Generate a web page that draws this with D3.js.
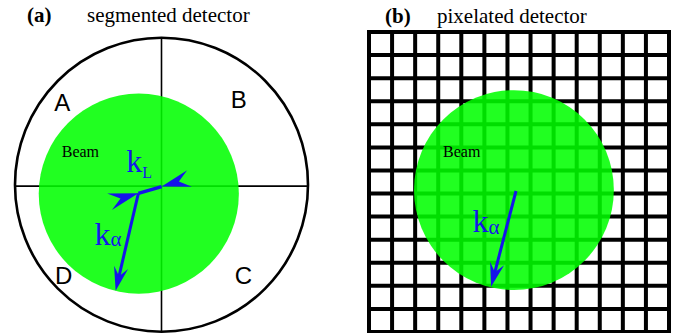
<!DOCTYPE html>
<html>
<head>
<meta charset="utf-8">
<script src="https://cdn.jsdelivr.net/npm/d3@7"></script>
<style>
  html, body { margin: 0; padding: 0; background: #fff; }
  svg { display: block; }
</style>
</head>
<body>
<svg id="fig" width="677" height="333"></svg>
<script>
// Segmented vs pixelated detector sketch

// panel (a): detector units, centre (0,0), radius 1, y pointing down
const quadrantLabels = ['A', 'B', 'C', 'D'];
const quadrantX = [-0.677, 0.527, 0.56, -0.667];
const quadrantY = [-0.503, -0.52, 0.675, 0.675];
const beamA = [-0.155, 0.061, 0.683];          // cx, cy, r
const kLStart = [-0.158, 0.059];
const kLEnd = [0.001, 0.013];
const kAlphaTipA = [-0.313, 0.721];
const labelBeamA = [-0.681, -0.188];
const labelKLA = [-0.24, -0.088];
const labelKAlphaA = [-0.457, 0.41];

// panel (b): pixel-cell units on a 13 x 13 grid
const gridCells = 13;
const beamB = [6.28, 6.85, 4.33];
const kAlphaStartB = [6.37, 6.89];
const kAlphaTipB = [5.29, 11.04];
const labelBeamB = [3.21, 5.42];
const labelKAlphaB = [4.48, 8.67];

const titles = [
  { tag: '(a)', text: 'segmented detector' },
  { tag: '(b)', text: 'pixelated detector' }
];

const BLUE = '#1515ea';
const GREEN = '#00ff00';
const SERIF = '"Liberation Serif", "Times New Roman", serif';
const SANS = '"Liberation Sans", Arial, sans-serif';

const svg = d3.select('#fig');
svg.append('rect').attr('width', 677).attr('height', 333).attr('fill', '#fff');

// barbed arrowhead: tip point, unit direction it points along
function arrowHead(tip, dir, len, half) {
  const bx = tip[0] - dir[0] * len, by = tip[1] - dir[1] * len;
  const px = -dir[1], py = dir[0];
  const nx = tip[0] - dir[0] * len * 0.62, ny = tip[1] - dir[1] * len * 0.62;
  return [tip, [bx + px * half, by + py * half], [nx, ny], [bx - px * half, by - py * half]];
}
function unit(a, b) {
  const dx = b[0] - a[0], dy = b[1] - a[1];
  const l = Math.hypot(dx, dy);
  return [dx / l, dy / l];
}
function subLabel(g, x, y, main, sub, size, subSize, subDx, subDy) {
  const t = g.append('text')
    .attr('x', x).attr('y', y)
    .attr('font-family', SERIF)
    .attr('font-size', size)
    .attr('fill', BLUE);
  t.append('tspan').text(main);
  t.append('tspan').attr('dx', subDx).attr('dy', subDy).attr('font-size', subSize).text(sub);
}

// ---------- panel (a) ----------
const xa = d3.scaleLinear().domain([-1, 1]).range([15, 308]);
const ya = d3.scaleLinear().domain([-1, 1]).range([37.7, 331.7]);
const ga = svg.append('g');

ga.append('ellipse')
  .attr('cx', xa(0)).attr('cy', ya(0))
  .attr('rx', xa(1) - xa(0)).attr('ry', ya(1) - ya(0))
  .attr('fill', 'none').attr('stroke', '#000').attr('stroke-width', 2.6);

ga.append('line')
  .attr('x1', xa(0)).attr('x2', xa(0))
  .attr('y1', ya(-1)).attr('y2', ya(1))
  .attr('stroke', '#000').attr('stroke-width', 1.6);
ga.append('line')
  .attr('x1', xa(-1)).attr('x2', xa(1))
  .attr('y1', ya(0.01)).attr('y2', ya(0.01))
  .attr('stroke', '#000').attr('stroke-width', 1.6);

ga.selectAll('text.quad')
  .data(quadrantLabels)
  .join('text')
    .attr('class', 'quad')
    .attr('x', (d, i) => xa(quadrantX[i]))
    .attr('y', (d, i) => ya(quadrantY[i]))
    .attr('text-anchor', 'middle')
    .attr('font-family', SANS)
    .attr('font-size', 24)
    .text(d => d);

ga.append('circle')
  .attr('cx', xa(beamA[0])).attr('cy', ya(beamA[1]))
  .attr('r', (xa(beamA[2]) - xa(0)))
  .attr('fill', GREEN).attr('fill-opacity', 0.87);

ga.append('text')
  .attr('x', xa(labelBeamA[0])).attr('y', ya(labelBeamA[1]))
  .attr('font-family', SERIF).attr('font-size', 16)
  .text('Beam');

// arrows in panel (a)
const pS = [xa(kLStart[0]), ya(kLStart[1])];
const pE = [xa(kLEnd[0]), ya(kLEnd[1])];
const pT = [xa(kAlphaTipA[0]), ya(kAlphaTipA[1])];
const line = d3.line();

ga.append('path').attr('d', line([pS, pE]))
  .attr('stroke', BLUE).attr('stroke-width', 3.6).attr('fill', 'none');
const dL = unit(pS, pE);
ga.append('path').attr('d', line(arrowHead(pS, dL, 30, 8.5)) + 'Z').attr('fill', BLUE);
ga.append('path').attr('d', line(arrowHead(pE, [-dL[0], -dL[1]], 29, 8.5)) + 'Z').attr('fill', BLUE);

const dA = unit(pS, pT);
ga.append('path').attr('d', line([pS, [pT[0] - dA[0] * 12, pT[1] - dA[1] * 12]]))
  .attr('stroke', BLUE).attr('stroke-width', 3).attr('fill', 'none');
ga.append('path').attr('d', line(arrowHead(pT, dA, 24, 7.2)) + 'Z').attr('fill', BLUE);

subLabel(ga, xa(labelKLA[0]), ya(labelKLA[1]), 'k', 'L', 32, 16, 0, 6);
subLabel(ga, xa(labelKAlphaA[0]), ya(labelKAlphaA[1]), 'k', 'α', 32, 21, 0, 1);

// ---------- panel (b) ----------
const xb = d3.scaleLinear().domain([0, gridCells]).range([369, 669]);
const yb = d3.scaleLinear().domain([0, gridCells]).range([32, 332]);
const gb = svg.append('g');
const ticks = d3.range(gridCells + 1);

gb.append('g').selectAll('line')
  .data(ticks)
  .join('line')
    .attr('x1', d => xb(d)).attr('x2', d => xb(d))
    .attr('y1', yb(0) - 2).attr('y2', yb(gridCells) + 2)
    .attr('stroke', '#000').attr('stroke-width', 4);
gb.append('g').selectAll('line')
  .data(ticks)
  .join('line')
    .attr('y1', d => yb(d)).attr('y2', d => yb(d))
    .attr('x1', xb(0) - 2).attr('x2', xb(gridCells) + 2)
    .attr('stroke', '#000').attr('stroke-width', 4);

gb.append('circle')
  .attr('cx', xb(beamB[0])).attr('cy', yb(beamB[1]))
  .attr('r', xb(beamB[2]) - xb(0))
  .attr('fill', GREEN).attr('fill-opacity', 0.87);

gb.append('text')
  .attr('x', xb(labelBeamB[0])).attr('y', yb(labelBeamB[1]))
  .attr('font-family', SERIF).attr('font-size', 16)
  .text('Beam');

const qS = [xb(kAlphaStartB[0]), yb(kAlphaStartB[1])];
const qT = [xb(kAlphaTipB[0]), yb(kAlphaTipB[1])];
const dB = unit(qS, qT);
gb.append('path').attr('d', line([qS, [qT[0] - dB[0] * 12, qT[1] - dB[1] * 12]]))
  .attr('stroke', BLUE).attr('stroke-width', 3).attr('fill', 'none');
gb.append('path').attr('d', line(arrowHead(qT, dB, 24, 7.2)) + 'Z').attr('fill', BLUE);

subLabel(gb, xb(labelKAlphaB[0]), yb(labelKAlphaB[1]), 'k', 'α', 32, 21, 0, 2);

// ---------- titles ----------
const titleX = [[27, 87], [385, 437]];
const titleY = [22, 23];
titles.forEach((t, i) => {
  svg.append('text')
    .attr('x', titleX[i][0]).attr('y', titleY[i])
    .attr('font-family', SERIF).attr('font-size', 21).attr('font-weight', 'bold')
    .text(t.tag);
  svg.append('text')
    .attr('x', titleX[i][1]).attr('y', titleY[i])
    .attr('font-family', SERIF).attr('font-size', 21)
    .text(t.text);
});
</script>
</body>
</html>
